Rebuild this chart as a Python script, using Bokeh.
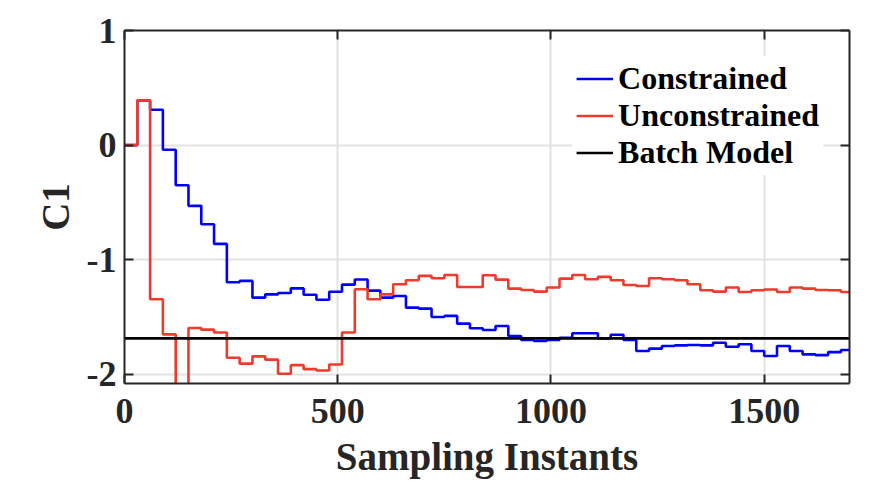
from bokeh.embed import file_html
from bokeh.models import FixedTicker, Legend, LegendItem, LinearAxis, Range1d
from bokeh.plotting import figure
from bokeh.resources import INLINE

# sampling instants at which the estimates change (step edges)
samples = [0, 30, 60, 90, 120, 150, 180, 210, 240, 270, 300, 330, 360, 390,
           420, 450, 480, 510, 540, 570, 600, 630, 660, 690, 720, 750, 780,
           810, 840, 870, 900, 930, 960, 990, 1020, 1050, 1080, 1110, 1140,
           1170, 1200, 1230, 1260, 1290, 1320, 1350, 1380, 1410, 1440, 1470,
           1500, 1530, 1560, 1590, 1620, 1650, 1680, 1700]

constrained = [0.0, 0.39, 0.308, -0.041, -0.35, -0.53, -0.69, -0.862,
               -1.197, -1.185, -1.331, -1.302, -1.29, -1.25, -1.305, -1.349,
               -1.28, -1.217, -1.173, -1.27, -1.331, -1.316, -1.418, -1.427,
               -1.50, -1.49, -1.558, -1.598, -1.613, -1.578, -1.666, -1.701,
               -1.709, -1.701, -1.681, -1.642, -1.642, -1.686, -1.654, -1.701,
               -1.797, -1.776, -1.753, -1.747, -1.744, -1.747, -1.724, -1.759,
               -1.738, -1.797, -1.84, -1.753, -1.797, -1.826, -1.832, -1.806,
               -1.788]

unconstrained = [0.0, 0.39, -1.345, -1.651, -2.15, -1.596, -1.61, -1.635,
                 -1.855, -1.907, -1.843, -1.872, -1.995, -1.92, -1.955, -1.966,
                 -1.914, -1.635, -1.258, -1.345, -1.302, -1.214, -1.179, -1.141,
                 -1.162, -1.133, -1.238, -1.238, -1.136, -1.174, -1.252, -1.264,
                 -1.278, -1.243, -1.165, -1.133, -1.171, -1.15, -1.179, -1.22,
                 -1.229, -1.162, -1.171, -1.179, -1.214, -1.266, -1.278, -1.243,
                 -1.281, -1.266, -1.26, -1.281, -1.243, -1.252, -1.264, -1.266,
                 -1.281]

batch_model = -1.686

x_ticks = [0, 500, 1000, 1500]
y_ticks = [-2, -1, 0, 1]
y_tick_labels = ["-2", "-1", "0", "1"]

FONT = "Liberation Serif"
AXIS_COLOR = "#262626"
GRID_COLOR = "#e2e2e2"

p = figure(width=864, height=490, output_backend="svg", toolbar_location=None,
           tools="", x_range=Range1d(0, 1700), y_range=Range1d(-2.08, 1.0),
           min_border_left=124, min_border_right=15, min_border_top=30,
           min_border_bottom=107)
p.outline_line_color = None
bottom = p.below[0]
left = p.left[0]

r_con = p.step(samples, constrained + constrained[-1:], mode="after",
               line_color="#0000ff", line_width=2.6)
r_unc = p.step(samples, unconstrained + unconstrained[-1:], mode="after",
               line_color="#ef3b2c", line_width=2.6)
r_bat = p.line([samples[0], samples[-1]], [batch_model, batch_model],
               line_color="black", line_width=2.6)

xt = FixedTicker(ticks=x_ticks)
yt = FixedTicker(ticks=y_ticks)

bottom.ticker = xt
left.ticker = yt
left.major_label_overrides = dict(zip(y_ticks, y_tick_labels))
p.xgrid.ticker = xt
p.ygrid.ticker = yt
for g in (p.xgrid, p.ygrid):
    g.grid_line_color = GRID_COLOR
    g.grid_line_width = 2

top = LinearAxis(ticker=xt, major_label_overrides={t: "" for t in x_ticks})
right = LinearAxis(ticker=yt, major_label_overrides={t: "" for t in y_ticks})
p.add_layout(top, "above")
p.add_layout(right, "right")

for ax in (bottom, left, top, right):
    ax.axis_line_color = AXIS_COLOR
    ax.axis_line_width = 2
    ax.major_tick_line_color = AXIS_COLOR
    ax.major_tick_line_width = 2
    ax.major_tick_in = 9
    ax.major_tick_out = 0
    ax.minor_tick_line_color = None
    ax.major_label_text_font = FONT
    ax.major_label_text_font_style = "bold"
    ax.major_label_text_color = AXIS_COLOR
    ax.major_label_text_font_size = "36px"

for ax in (top, right):
    ax.major_label_standoff = 0

bottom.major_label_standoff = 15
left.major_label_standoff = 8
bottom.axis_label = "Sampling Instants"
left.axis_label = "C1"
for ax in (bottom, left):
    ax.axis_label_text_font = FONT
    ax.axis_label_text_font_style = "bold"
    ax.axis_label_text_font_size = "39px"
    ax.axis_label_text_color = AXIS_COLOR
bottom.axis_label_standoff = 9
left.axis_label_standoff = 7

legend = Legend(items=[LegendItem(label="Constrained", renderers=[r_con]),
                       LegendItem(label="Unconstrained", renderers=[r_unc]),
                       LegendItem(label="Batch Model", renderers=[r_bat])],
                location="top_right", margin=26, padding=4, spacing=0,
                glyph_width=37, glyph_height=37, label_height=37,
                label_standoff=5)
legend.label_text_font = FONT
legend.label_text_font_style = "bold"
legend.label_text_font_size = "32px"
legend.label_text_color = "black"
legend.background_fill_color = "white"
legend.background_fill_alpha = 1.0
legend.border_line_alpha = 0
p.add_layout(legend)

open("out.html", "w").write(file_html(p, INLINE))
